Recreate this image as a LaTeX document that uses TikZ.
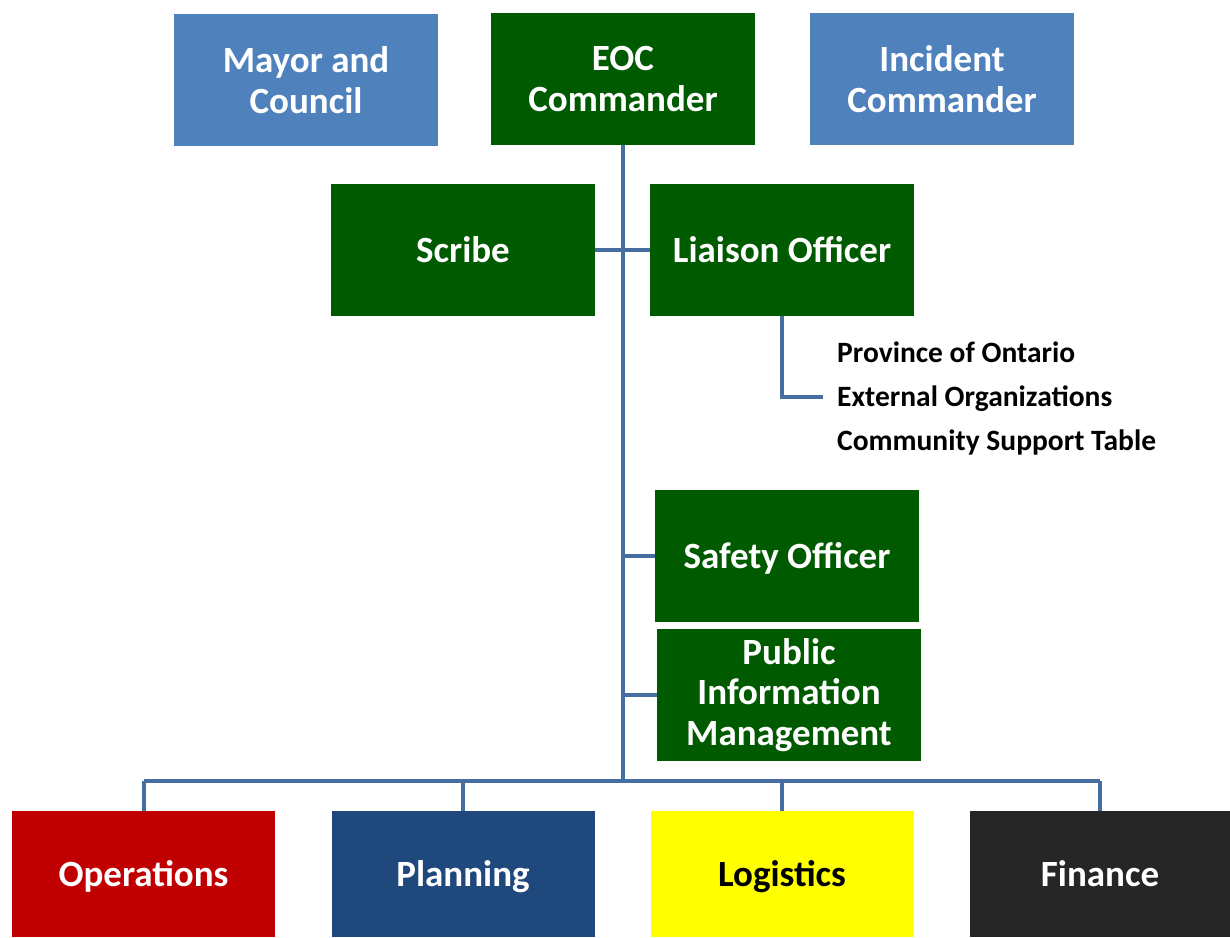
\documentclass[tikz,border=0pt]{standalone}
\usepackage{fontspec}
\setmainfont{Carlito}
\usepackage{tikz}
\usetikzlibrary{positioning}
\definecolor{boxblue}{RGB}{79,129,189}
\definecolor{boxgreen}{RGB}{0,90,0}
\definecolor{opsred}{RGB}{192,0,0}
\definecolor{plannavy}{RGB}{31,73,125}
\definecolor{logyellow}{RGB}{255,255,0}
\definecolor{findark}{RGB}{38,38,38}
\definecolor{linkblue}{RGB}{70,110,160}
\begin{document}
\begin{tikzpicture}[x=1pt, y=-1pt,
    unit/.style={minimum width=264pt, minimum height=132pt, inner sep=0pt, align=center,
      text=white, font=\fontsize{37}{40.5}\selectfont\bfseries},
    oneline/.style={text height=24pt, text depth=0pt},
    bluebox/.style={unit, fill=boxblue},
    greenbox/.style={unit, fill=boxgreen},
    section/.style={unit, oneline, minimum width=263pt, minimum height=126pt},
    link/.style={draw=linkblue, line width=4pt},
    partner/.style={anchor=west, inner sep=0pt, text height=19pt, text depth=0pt,
      font=\fontsize{29.5}{30}\selectfont\bfseries}]
  \useasboundingbox (0,0) rectangle (1230,937);

  % top row
  \node[bluebox]  (mayor)    at (306,80) {Mayor and\\Council};
  \node[greenbox] (eoc)      at (623,79) {EOC\\Commander};
  \node[bluebox]  (incident) at (942,79) {Incident\\Commander};

  % command staff
  \node[greenbox, oneline] (scribe)  at (463,250) {Scribe};
  \node[greenbox, oneline] (liaison) at (782,250) {Liaison Officer};
  \node[greenbox, oneline] (safety)  at (787,556) {Safety Officer};
  \node[greenbox] (pim)     at (789,695) {Public\\Information\\Management};

  \node[partner] (ontario)   at (837,353) {Province of Ontario};
  \node[partner] (external)  at (837,397) {External Organizations};
  \node[partner] (community) at (837,441) {Community Support Table};

  % general staff
  \node[section, fill=opsred]    (ops)  at (143.5,874) {Operations};
  \node[section, fill=plannavy]  (plan) at (463,874) {Planning};
  \node[section, fill=logyellow, text=black] (logi) at (782,874) {Logistics};
  \node[section, fill=findark, minimum width=260pt] (fin) at (1100,874) {Finance};

  \coordinate (bus) at (623,781);
  \draw[link] (eoc.south) -- (bus);
  \draw[link] (scribe.east) -- (liaison.west);
  \draw[link] (liaison.south) |- ([xshift=-14pt]external.west);
  \draw[link] (safety.west) -- (safety.west -| bus);
  \draw[link] (pim.west) -- (pim.west -| bus);
  \draw[link] (ops.north |- bus) -- (fin.north |- bus);
  \foreach \s in {ops,plan,logi,fin}
    \draw[link] (\s.north |- bus) -- (\s.north);
\end{tikzpicture}
\end{document}
